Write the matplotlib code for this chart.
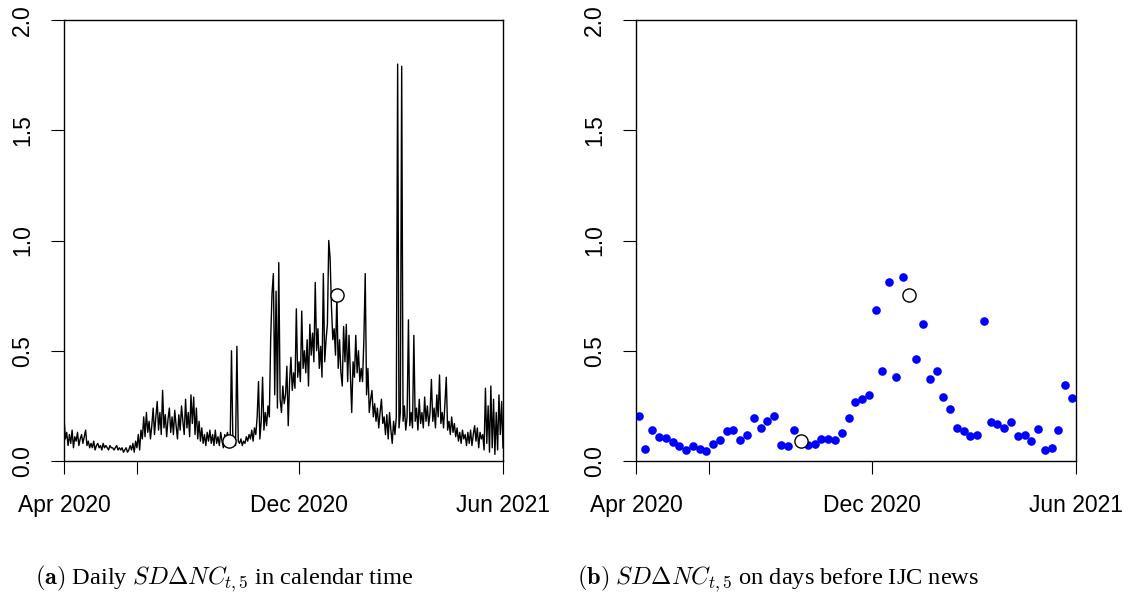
import matplotlib
matplotlib.use("Agg")
import matplotlib.pyplot as plt

# ---------------- data ----------------
# daily SD-Delta-NC_{t,5}, trading-day index 0..325
daily_sd = [
    0.20, 0.10, 0.13, 0.07, 0.12, 0.08, 0.14, 0.06, 0.11, 0.09,
    0.13, 0.07, 0.10, 0.12, 0.08, 0.11, 0.14, 0.07, 0.09, 0.06,
    0.08, 0.06, 0.09, 0.05, 0.07, 0.08, 0.06, 0.07, 0.05, 0.08,
    0.06, 0.07, 0.06, 0.05, 0.07, 0.06, 0.06, 0.05, 0.06, 0.07,
    0.05, 0.06, 0.05, 0.06, 0.04, 0.05, 0.06, 0.04, 0.05, 0.07,
    0.05, 0.08, 0.04, 0.09, 0.06, 0.12, 0.05, 0.14, 0.10, 0.20,
    0.11, 0.22, 0.13, 0.18, 0.10, 0.16, 0.24, 0.12, 0.20, 0.27,
    0.14, 0.22, 0.12, 0.32, 0.15, 0.21, 0.11, 0.19, 0.24, 0.13,
    0.20, 0.12, 0.23, 0.16, 0.10, 0.21, 0.14, 0.25, 0.18, 0.12,
    0.28, 0.15, 0.22, 0.11, 0.30, 0.17, 0.29, 0.12, 0.24, 0.10,
    0.18, 0.09, 0.15, 0.08, 0.12, 0.07, 0.13, 0.09, 0.14, 0.08,
    0.12, 0.07, 0.14, 0.08, 0.11, 0.07, 0.13, 0.09, 0.06, 0.12,
    0.10, 0.13, 0.09, 0.08, 0.50, 0.10, 0.08, 0.07, 0.52, 0.09,
    0.08, 0.10, 0.07, 0.09, 0.08, 0.11, 0.09, 0.12, 0.10, 0.14,
    0.09, 0.15, 0.12, 0.20, 0.36, 0.10, 0.18, 0.38, 0.14, 0.22,
    0.16, 0.25, 0.20, 0.55, 0.76, 0.85, 0.30, 0.77, 0.24, 0.90,
    0.28, 0.22, 0.34, 0.26, 0.30, 0.43, 0.16, 0.36, 0.47, 0.32,
    0.40, 0.33, 0.69, 0.38, 0.45, 0.36, 0.68, 0.42, 0.50, 0.40,
    0.55, 0.34, 0.62, 0.48, 0.58, 0.45, 0.81, 0.50, 0.60, 0.42,
    0.52, 0.38, 0.85, 0.45, 0.55, 0.62, 1.00, 0.92, 0.70, 0.55,
    0.60, 0.48, 0.75, 0.42, 0.55, 0.40, 0.34, 0.61, 0.45, 0.62,
    0.36, 0.57, 0.40, 0.22, 0.45, 0.38, 0.57, 0.40, 0.50, 0.36,
    0.42, 0.36, 0.55, 0.85, 0.30, 0.42, 0.22, 0.28, 0.32, 0.20,
    0.26, 0.18, 0.24, 0.15, 0.22, 0.28, 0.17, 0.20, 0.12, 0.21,
    0.10, 0.22, 0.14, 0.08, 0.18, 0.12, 0.20, 1.80, 0.15, 0.22,
    1.79, 0.18, 0.25, 0.14, 0.20, 0.64, 0.16, 0.22, 0.15, 0.57,
    0.18, 0.24, 0.14, 0.28, 0.17, 0.22, 0.15, 0.29, 0.18, 0.25,
    0.16, 0.22, 0.37, 0.18, 0.24, 0.15, 0.30, 0.20, 0.39, 0.17,
    0.22, 0.15, 0.26, 0.38, 0.14, 0.18, 0.12, 0.20, 0.13, 0.17,
    0.11, 0.15, 0.09, 0.13, 0.08, 0.14, 0.10, 0.12, 0.07, 0.13,
    0.08, 0.14, 0.07, 0.12, 0.16, 0.09, 0.15, 0.06, 0.13, 0.10,
    0.12, 0.05, 0.33, 0.08, 0.25, 0.04, 0.34, 0.06, 0.28, 0.03,
    0.22, 0.05, 0.30, 0.12, 0.27, 0.06,
]
daily_day = list(range(len(daily_sd)))

# values on days before IJC news (weekly sampling)
news_day = list(range(2, 326, 5))
news_sd = [
    0.205, 0.054, 0.142, 0.109, 0.106, 0.086, 0.069, 0.048, 0.068, 0.056,
    0.045, 0.076, 0.095, 0.138, 0.142, 0.095, 0.120, 0.195, 0.148, 0.180,
    0.205, 0.071, 0.067, 0.142, 0.089, 0.073, 0.078, 0.100, 0.101, 0.097,
    0.128, 0.195, 0.266, 0.280, 0.301, 0.686, 0.408, 0.810, 0.381, 0.834,
    0.754, 0.463, 0.620, 0.370, 0.407, 0.292, 0.236, 0.151, 0.137, 0.113,
    0.119, 0.635, 0.176, 0.168, 0.150, 0.176, 0.115, 0.116, 0.089, 0.147,
    0.050, 0.060, 0.142, 0.343, 0.287,
]

# highlighted days (open circles)
highlight_day = [122, 202]
highlight_sd = [0.089, 0.754]

x_tick_pos = [0, 54, 174, 325]
x_tick_labels = ["Apr 2020", "", "Dec 2020", "Jun 2021"]
y_ticks = [0.0, 0.5, 1.0, 1.5, 2.0]
y_tick_labels = ["0.0", "0.5", "1.0", "1.5", "2.0"]

captions = [
    r"$\mathbf{(a)}$ Daily $SD\Delta NC_{t,5}$ in calendar time",
    r"$\mathbf{(b)}$ $SD\Delta NC_{t,5}$ on days before IJC news",
]

# ---------------- figure ----------------
plt.rcParams["font.family"] = ["Liberation Sans", "DejaVu Sans"]
plt.rcParams["mathtext.fontset"] = "cm"

fig = plt.figure(figsize=(11.28, 5.96), dpi=100)
ax1 = fig.add_axes([64 / 1128, 135 / 596, 439 / 1128, 441 / 596])
ax2 = fig.add_axes([636 / 1128, 135 / 596, 440 / 1128, 441 / 596])

ax1.plot(daily_day, daily_sd, color="black", lw=1.0)
ax1.plot(highlight_day, highlight_sd, linestyle="none", marker="o",
         markersize=9.5, markerfacecolor="white", markeredgecolor="black",
         markeredgewidth=1.0, zorder=5)

ax2.plot(news_day, news_sd, linestyle="none", marker="o", markersize=6.2,
         color="#0000ff", markeredgewidth=0)
ax2.plot(highlight_day, highlight_sd, linestyle="none", marker="o",
         markersize=9.5, markerfacecolor="white", markeredgecolor="black",
         markeredgewidth=1.0, zorder=5)

for ax in (ax1, ax2):
    ax.set_xlim(0, 325)
    ax.set_ylim(0, 2.0)
    ax.set_xticks(x_tick_pos)
    ax.set_xticklabels(x_tick_labels)
    ax.set_yticks(y_ticks)
    ax.set_yticklabels(y_tick_labels, rotation=90, va="center")
    ax.tick_params(axis="both", direction="out", length=9.5, width=0.8,
                   labelsize=16.5, colors="black")
    ax.tick_params(axis="x", pad=14)
    ax.tick_params(axis="y", pad=12)
    for s in ax.spines.values():
        s.set_linewidth(1.0)

fig.text(35 / 1128, 0.020, captions[0], fontsize=17.6, family="Liberation Serif",
         ha="left", va="baseline")
fig.text(577 / 1128, 0.020, captions[1], fontsize=17.6, family="Liberation Serif",
         ha="left", va="baseline")

fig.savefig("out.png", dpi=100)
